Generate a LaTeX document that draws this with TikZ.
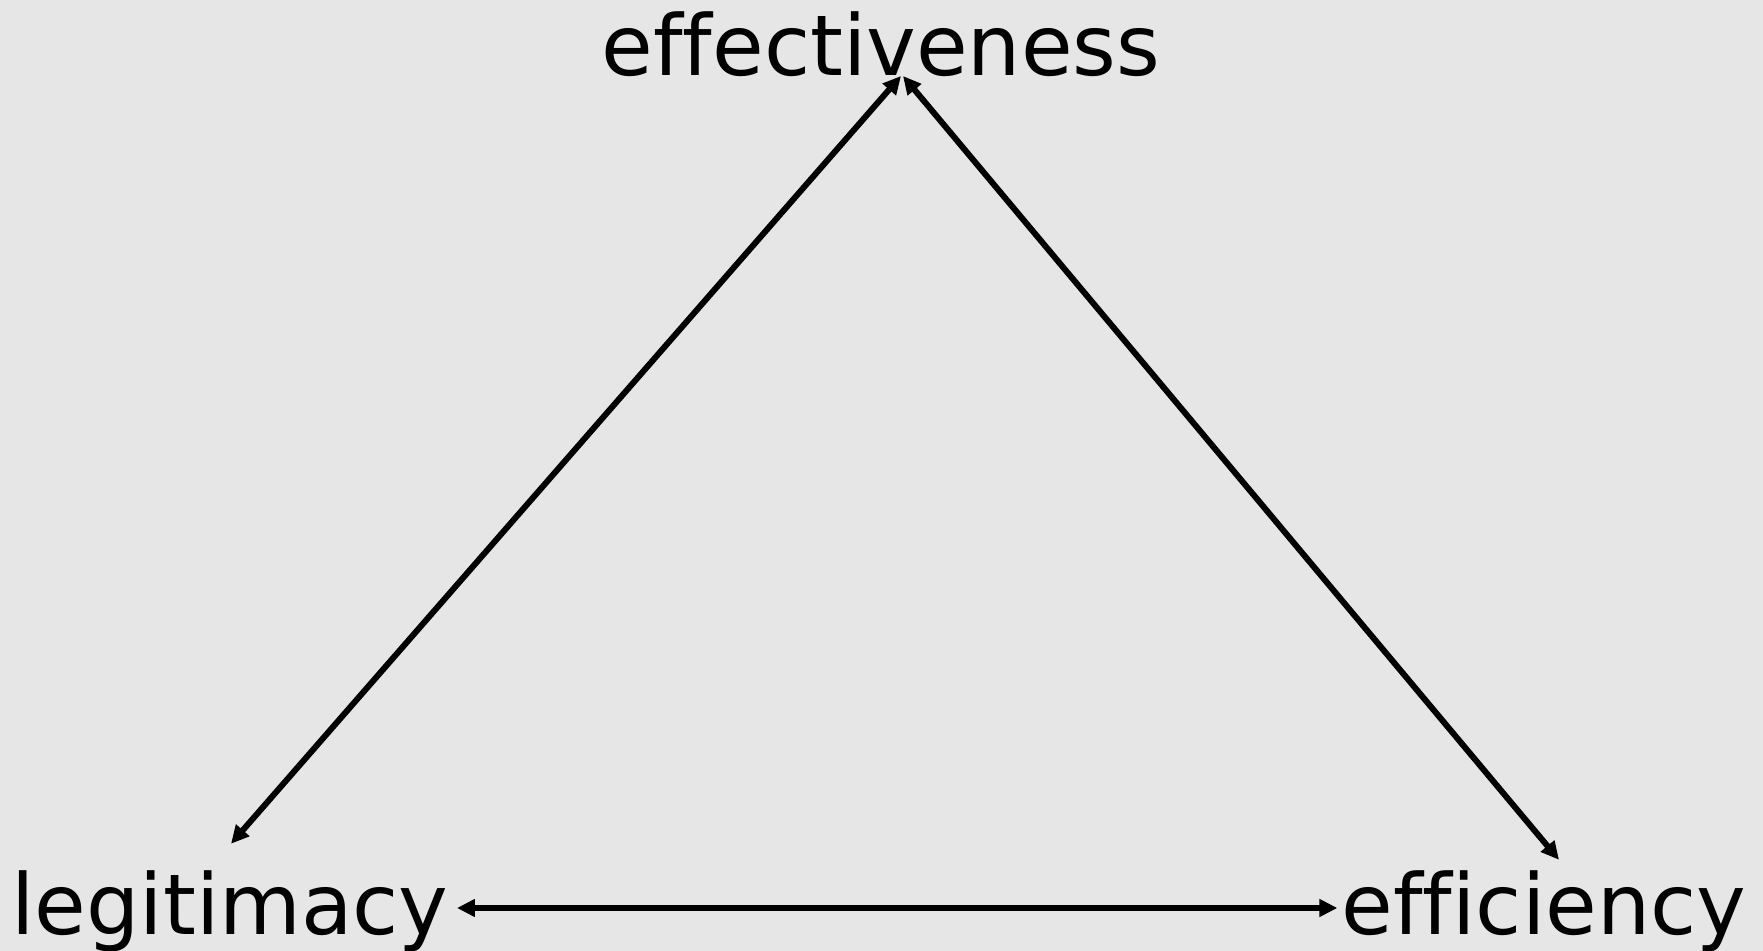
\documentclass[tikz,border=0pt]{standalone}
\usepackage{fontspec}
\setmainfont{DejaVu Sans}[Ligatures=NoCommon]
\usetikzlibrary{arrows.meta,positioning,calc}
\definecolor{bggray}{HTML}{E6E6E6}

\begin{document}
\begin{tikzpicture}[x=0.5pt,y=-0.5pt,
  every node/.style={font=\fontsize{42pt}{50pt}\selectfont},
  lbl/.style={inner sep=0pt,anchor=base},
  ar/.style={{Triangle[length=9pt,width=8.5pt]}-{Triangle[length=9pt,width=8.5pt]},line width=3pt,black}]
\path[use as bounding box,fill=bggray] (0,0) rectangle (1763,951);
\node[lbl] (eff) at (881,76) {effectiveness};
\node[lbl] (leg) at (230,935) {legitimacy};
\node[lbl] (effi) at (1544,935) {efficiency};
\draw[ar] ([shift={(0.5pt,13.5pt)}]leg.north) -- ([xshift=10pt]eff.base);
\draw[ar] ([xshift=11pt]eff.base) -- ([shift={(7.5pt,5.5pt)}]effi.north);
\draw[ar] ([shift={(4pt,13.5pt)}]leg.base east) -- ([shift={(-2pt,13.5pt)}]effi.base west);
\end{tikzpicture}
\end{document}
